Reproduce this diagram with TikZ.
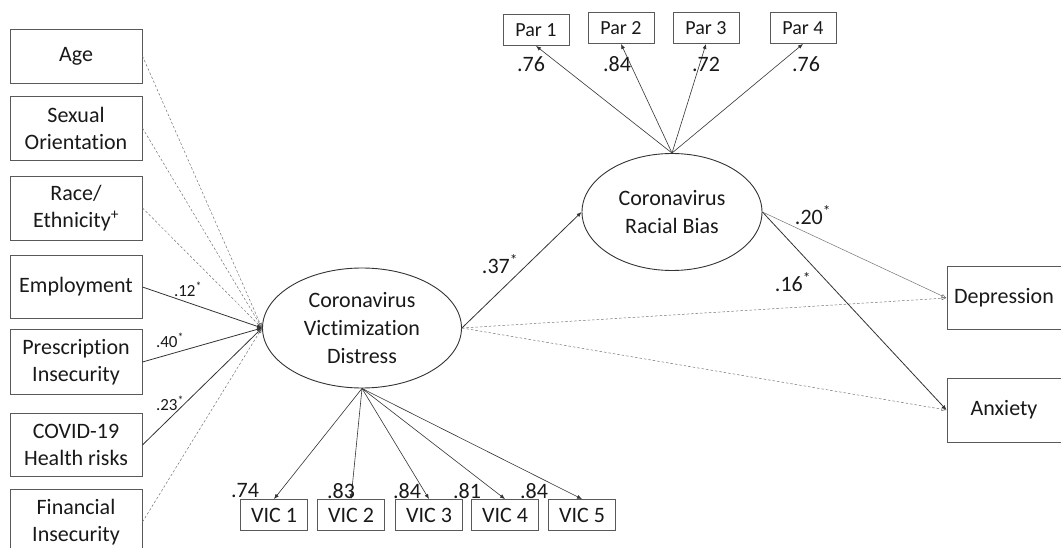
\documentclass[tikz,border=0pt]{standalone}
\usepackage{fontspec}
\setmainfont{Carlito}[Ligatures=NoCommon, RawFeature={-liga;-clig;-dlig}]
\usetikzlibrary{shapes.geometric, arrows.meta}
\tikzset{
  varbox/.style={draw=black!65, line width=0.9pt, text=black!90, align=center,
    inner sep=0pt, font=\fontsize{22}{27}\selectfont},
  latent/.style={ellipse, draw=black!80, line width=0.9pt, text=black!90, align=center,
    inner sep=0pt, font=\fontsize{22}{28}\selectfont},
  coef/.style={text=black!90, inner sep=0pt, font=\fontsize{22}{26}\selectfont},
  smallcoef/.style={text=black!90, inner sep=0pt, font=\fontsize{17}{19}\selectfont},
  path/.style={draw=black!80, line width=0.8pt, -{Latex[length=5pt,width=4pt]}},
  thinpath/.style={draw=black!55, line width=0.5pt, -{Latex[open,length=5pt,width=4pt]}},
  nspath/.style={draw=black!55, line width=0.5pt, dash pattern=on 2.5pt off 2pt,
    -{Latex[open,length=5pt,width=4pt]}}
}
\begin{document}
\begin{tikzpicture}[x=1pt, y=-1pt]
\useasboundingbox (0,0) rectangle (1061,548);
% predictors
\node[varbox, minimum width=132, minimum height=54] (age) at (76,56) {Age};
\node[varbox, minimum width=132, minimum height=64] (sex) at (76,128) {Sexual\\Orientation};
\node[varbox, minimum width=132, minimum height=64] (race) at (76,208) {Race/\\Ethnicity\textsuperscript{+}};
\node[varbox, minimum width=132, minimum height=63] (emp) at (76,287) {Employment};
\node[varbox, minimum width=132, minimum height=65] (presc) at (76,362) {Prescription\\Insecurity};
\node[varbox, minimum width=132, minimum height=63] (covid) at (76,445) {COVID-19\\Health risks};
\node[varbox, minimum width=132, minimum height=66] (fin) at (76,522) {Financial\\Insecurity};
% latent variables
\node[latent, minimum width=199, minimum height=120] (vic) at (362,328) {Coronavirus\\Victimization\\Distress};
\node[latent, minimum width=180, minimum height=117] (bias) at (672,212) {Coronavirus\\Racial Bias};
% indicators
\node[varbox, font=\fontsize{20}{24}\selectfont, minimum width=66, minimum height=31] (par1) at (536,30) {Par 1};
\node[varbox, font=\fontsize{20}{24}\selectfont, minimum width=66, minimum height=31] (par2) at (621,28) {Par 2};
\node[varbox, font=\fontsize{20}{24}\selectfont, minimum width=66, minimum height=31] (par3) at (706,28) {Par 3};
\node[varbox, font=\fontsize{20}{24}\selectfont, minimum width=66, minimum height=31] (par4) at (803,28) {Par 4};
\node[varbox, minimum width=67, minimum height=31] (vic1) at (274,515) {VIC 1};
\node[varbox, minimum width=67, minimum height=31] (vic2) at (351,515) {VIC 2};
\node[varbox, minimum width=67, minimum height=31] (vic3) at (429,515) {VIC 3};
\node[varbox, minimum width=67, minimum height=31] (vic4) at (505,515) {VIC 4};
\node[varbox, minimum width=67, minimum height=31] (vic5) at (582,515) {VIC 5};
% outcomes
\node[varbox, minimum width=114, minimum height=63] (dep) at (1004,298) {Depression};
\node[varbox, minimum width=114, minimum height=64] (anx) at (1004,410) {Anxiety};

% paths
\draw[nspath] (age.east) -- (vic.west);
\draw[nspath] (sex.east) -- (vic.west);
\draw[nspath] (race.east) -- (vic.west);
\draw[path] (emp.east) -- (vic.west);
\draw[path] (presc.east) -- (vic.west);
\draw[path] (covid.east) -- (vic.west);
\draw[nspath] (fin.east) -- (vic.west);
\draw[path] (vic.east) -- (bias.west);
\draw[nspath] (vic.east) -- (dep.west);
\draw[nspath] (vic.east) -- (anx.west);
\draw[thinpath] (bias.east) -- (dep.west);
\draw[path] (bias.east) -- (anx.west);
\foreach \p in {par1,par2,par3,par4}
  \draw[path, line width=0.6pt] (bias.north) -- (\p.south);
\foreach \v in {vic1,vic2,vic3,vic4,vic5}
  \draw[path, line width=0.6pt] (vic.south) -- (\v.north);

% coefficients
\node[smallcoef] (c-emp) at (188,289) {.12\textsuperscript{*}};
\node[smallcoef] (c-presc) at (170,340) {.40\textsuperscript{*}};
\node[smallcoef] (c-covid) at (170,403) {.23\textsuperscript{*}};
\node[coef] (c-bias) at (500,264) {.37\textsuperscript{*}};
\node[coef] (c-dep) at (813,215) {.20\textsuperscript{*}};
\node[coef] (c-anx) at (793,282) {.16\textsuperscript{*}};
\node[coef] (l-par1) at (531,64) {.76};
\node[coef] (l-par2) at (617,64) {.84};
\node[coef] (l-par3) at (706,64) {.72};
\node[coef] (l-par4) at (806,64) {.76};
\node[coef] (l-vic1) at (245,491) {.74};
\node[coef] (l-vic2) at (341,491) {.83};
\node[coef] (l-vic3) at (407,491) {.84};
\node[coef] (l-vic4) at (467,491) {.81};
\node[coef] (l-vic5) at (534,491) {.84};
\end{tikzpicture}
\end{document}
